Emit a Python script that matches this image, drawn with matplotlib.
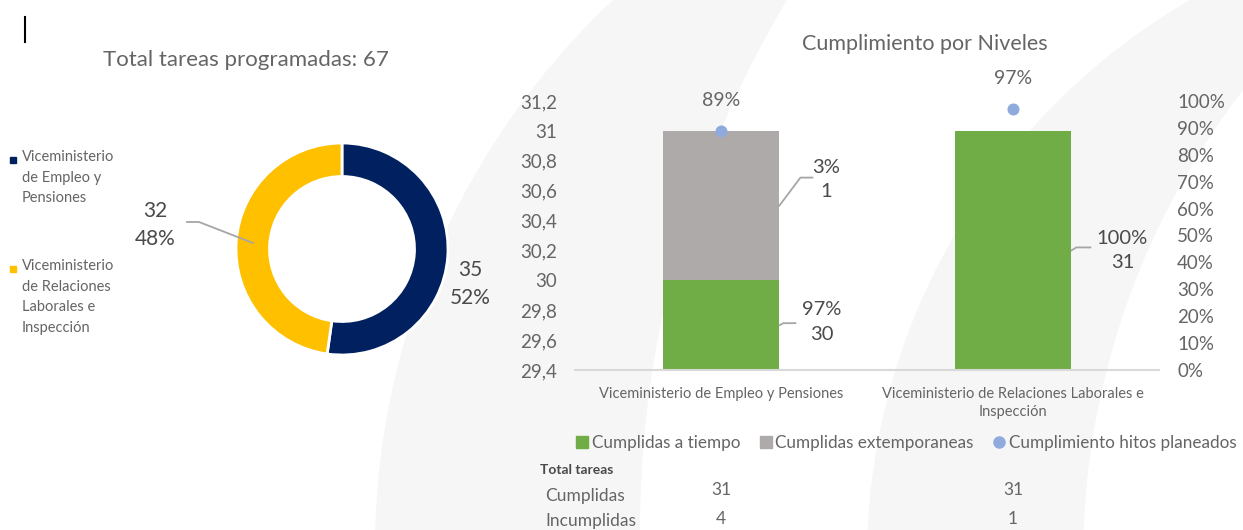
import textwrap
import numpy as np
import matplotlib
matplotlib.use("Agg")
import matplotlib.pyplot as plt
from matplotlib.lines import Line2D
from matplotlib.ticker import FuncFormatter, PercentFormatter
from matplotlib import transforms

plt.rcParams['font.family'] = ['Lato', 'DejaVu Sans']

W, H = 1243, 530

# datos
niveles = ["Viceministerio de Empleo y Pensiones",
           "Viceministerio de Relaciones Laborales e Inspección"]
tareas_programadas = [35, 32]
a_tiempo = [30, 31]
extemporaneas = [1, 0]
hitos = [0.89, 0.97]
cumplidas = [31, 31]
incumplidas = [4, 1]

c_navy = '#002060'
c_yellow = '#FFC000'
c_green = '#70AD47'
c_gray = '#AEAAAA'
c_dot = '#8FAADC'
c_txt = '#656565'
c_lab = '#4a4a4a'

fig = plt.figure(figsize=(W / 100, H / 100), dpi=100)
fig.patch.set_facecolor('white')

def px(x, y):
    # pixel (top-left origin) -> figure fraction
    return x / W, 1 - y / H

# fondo: arcos claros de marca de agua
bg = fig.add_axes([0, 0, 1, 1], zorder=-10)
bg.set_xlim(0, W)
bg.set_ylim(H, 0)
bg.axis('off')

def band(cl, cr):
    y = np.linspace(-5, H + 5, 400)
    xl = cl[0] - np.sqrt(cl[2] ** 2 - (y - cl[1]) ** 2)
    xr = cr[0] - np.sqrt(cr[2] ** 2 - (y - cr[1]) ** 2)
    bg.fill_betweenx(y, xl, xr, color='#f6f6f6', lw=0)

band((1129.5, 550, 754.5), (1669, 530, 1029))
band((1514, 560, 647), (1853, 560, 770))
bg.plot([25, 25], [17, 42], color='black', lw=1.5)

# ---------------- dona ----------------
total = sum(tareas_programadas)
fig.text(*px(246, 60), f"Total tareas programadas: {total}", ha='center', va='center',
         fontsize=16, color=c_txt)

dax = fig.add_axes([(342 - 110) / W, (H - 249 - 110) / H, 220 / W, 220 / H])
dax.pie(tareas_programadas, colors=[c_navy, c_yellow], startangle=90, counterclock=False,
        radius=1.06, wedgeprops=dict(width=0.335, edgecolor='white', linewidth=2))
dax.set_xlim(-1.1, 1.1)
dax.set_ylim(-1.1, 1.1)
dax.axis('off')

pos_lbl = [(470, 284), (155, 225)]
for v, (lx, ly) in zip(tareas_programadas, pos_lbl):
    fig.text(*px(lx, ly), f"{v}\n{v / total:.0%}", ha='center', va='center',
             fontsize=15, color=c_lab, linespacing=1.45)
fig.add_artist(Line2D([187 / W, 199 / W, 253 / W],
                      [1 - 222 / H, 1 - 222 / H, 1 - 243 / H], color='#a6a6a6', lw=1.3))

# leyenda de la dona
for lab, col, y0 in zip(niveles, [c_navy, c_yellow], [160, 269]):
    bg.plot(13, y0, marker='s', ms=4, color=col)
    fig.text(*px(22, y0 - 10), textwrap.fill(lab, 14), ha='left', va='top',
             fontsize=10.5, color=c_txt, linespacing=1.6)

# ---------------- barras ----------------
ax = fig.add_axes([575 / W, 160 / H, 584 / W, 269 / H])
ax.set_facecolor('none')
x = np.arange(len(niveles))
bw = 0.4
ax.bar(x, a_tiempo, bw, color=c_green, zorder=2)
ax.bar(x, extemporaneas, bw, bottom=a_tiempo, color=c_gray, zorder=2)
ax.set_xlim(-0.5, 1.5)
ax.set_ylim(29.4, 31.2)
ax.set_yticks(np.arange(29.4, 31.21, 0.2))
ax.yaxis.set_major_formatter(FuncFormatter(lambda v, _: f"{round(v, 1):g}".replace('.', ',')))
ax.set_xticks(x, [textwrap.fill(n, 40) for n in niveles])
ax.tick_params(axis='y', length=0, labelsize=13.5, labelcolor=c_txt, pad=13)
ax.tick_params(axis='x', length=0, labelsize=10.5, labelcolor=c_txt, pad=12)
for lbl in ax.get_xticklabels():
    lbl.set_linespacing(1.4)
for s in ['top', 'left', 'right']:
    ax.spines[s].set_visible(False)
ax.spines['bottom'].set_color('#d9d9d9')
ax.spines['bottom'].set_linewidth(1.5)

ax2 = ax.twinx()
ax2.set_ylim(0, 1)
ax2.set_yticks(np.linspace(0, 1, 11))
ax2.yaxis.set_major_formatter(PercentFormatter(1, decimals=0))
ax2.tick_params(axis='y', length=0, labelsize=13.5, labelcolor=c_txt, pad=13)
for s in ax2.spines.values():
    s.set_visible(False)
ax2.scatter(x, hitos, s=75, color=c_dot, zorder=5, linewidths=0)
for xi, h in zip(x, hitos):
    ax2.annotate(f"{h:.0%}", (xi, h), xytext=(0, 22), textcoords='offset points',
                 ha='center', va='center', fontsize=14, color=c_txt)

fig.text(*px(925, 44), "Cumplimiento por Niveles", ha='center', va='center',
         fontsize=15.5, color=c_txt)

# etiquetas de datos con lineas guia (desplazamientos en pixeles)
guias = {
    (0, 0): [(0, 0), (4, 2), (16, 2)],
    (1, 0): [(0, 0), (21, 28), (33, 28)],
    (0, 1): [(0, 0), (5, 3), (19, 3)],
}
txt_off = {(0, 0): (42, 3), (1, 0): (47, 26), (0, 1): (51, 0)}
y0 = ax.get_ylim()[0]
for si, serie in enumerate([a_tiempo, extemporaneas]):
    for i in range(len(niveles)):
        v = serie[i]
        if v == 0:
            continue
        bottom = 0 if si == 0 else a_tiempo[i]
        tot = a_tiempo[i] + extemporaneas[i]
        ym = (max(bottom, y0) + bottom + v) / 2
        xe = x[i] + bw / 2
        p = ax.transData.transform((xe, ym))
        pts = np.array(guias[(si, i)], dtype=float) + p
        fig.add_artist(Line2D(pts[:, 0] / W, pts[:, 1] / H, color='#a6a6a6', lw=1.3))
        dx, dy = txt_off[(si, i)]
        ax.annotate(f"{v / tot:.0%}\n{v}", (xe, ym), xytext=(dx * 0.72, dy * 0.72),
                    textcoords='offset points', ha='center', va='center',
                    fontsize=14.5, color=c_lab, linespacing=1.55)

# leyenda
handles = [Line2D([], [], marker='s', ls='', color=c_green, markersize=8),
           Line2D([], [], marker='s', ls='', color=c_gray, markersize=8),
           Line2D([], [], marker='o', ls='', color=c_dot, markersize=8)]
fig.legend(handles, ["Cumplidas a tiempo", "Cumplidas extemporaneas", "Cumplimiento hitos planeados"],
           loc='center', bbox_to_anchor=px(906, 443), ncol=3, frameon=False, fontsize=12.3,
           handletextpad=0.15, columnspacing=1.1, handlelength=0.8, labelcolor=c_txt,
           borderpad=0.1, borderaxespad=0.1)

# tabla inferior
fig.text(*px(540, 470), "Total tareas", ha='left', va='center', fontsize=10,
         fontweight='bold', color=c_lab)
fig.text(*px(545, 496), "Cumplidas", ha='left', va='center', fontsize=12.5, color=c_txt)
fig.text(*px(545, 521), "Incumplidas", ha='left', va='center', fontsize=12.5, color=c_txt)
bl = transforms.blended_transform_factory(ax.transData, fig.transFigure)
for i in range(len(niveles)):
    ax.text(x[i], 1 - 490 / H, str(cumplidas[i]), transform=bl, ha='center', va='center',
            fontsize=12.5, color=c_txt)
    ax.text(x[i], 1 - 519 / H, str(incumplidas[i]), transform=bl, ha='center', va='center',
            fontsize=12.5, color=c_txt)

fig.savefig("out.png", dpi=100)
